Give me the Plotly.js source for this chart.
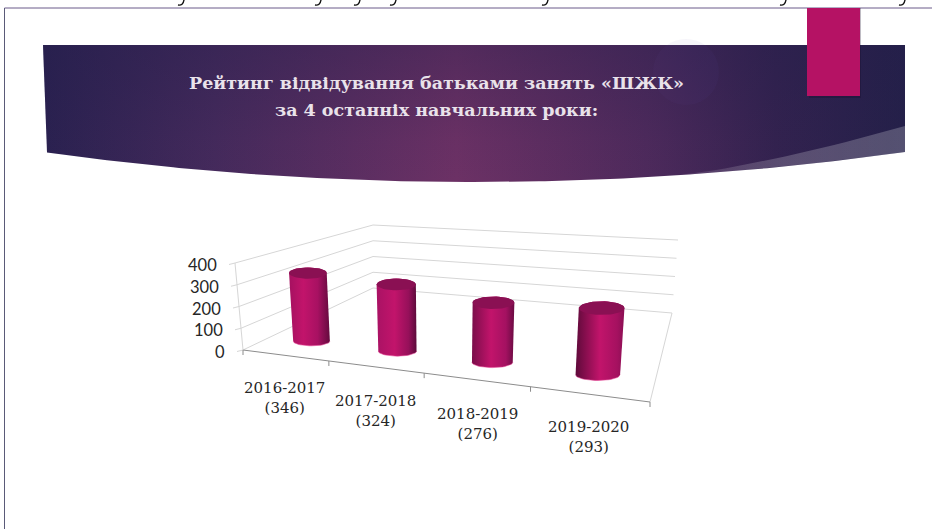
<!DOCTYPE html>
<html>
<head>
<meta charset="utf-8">
<script src="https://cdn.plot.ly/plotly-3.0.1.min.js"></script>
<style>html,body{margin:0;padding:0;background:#fff;overflow:hidden}#c{width:932px;height:529px}</style>
</head>
<body>
<div id="c"></div>
<script>
// ---- data ----
var categories = ['2016-2017', '2017-2018', '2018-2019', '2019-2020'];
var values = [346, 324, 276, 293];
var valueTicks = [0, 100, 200, 300, 400];
var titleLines = ['Рейтинг відвідування батьками занять «ШЖК»', 'за 4 останніх навчальних роки:'];

// ---- styles ----
var barShades = [
  [[0,'#a51160'],[0.35,'#c2146b'],[0.7,'#a81162'],[1,'#640a3e']],
  [[0,'#a91264'],[0.45,'#c2146b'],[0.8,'#96105a'],[1,'#5c0a3a']],
  [[0,'#7a0d4a'],[0.45,'#c2146b'],[0.8,'#a41161'],[1,'#6a0b42']],
  [[0,'#5e0a3a'],[0.5,'#c2146b'],[0.85,'#a51160'],[1,'#8a0f53']]
];
var barTop = '#8a1053', barRim = 'rgba(232,70,150,0.55)';
var gridColor = '#d6d6d6', axisColor = '#8c8c8c';
var barRadius = [0.056, 0.053, 0.051, 0.05];

// ---- projection of the chart box (category position u, depth v, value z) ----
var zMax = 400;
var floorQuad = [[243,350],[650,402],[672,313],[373,288]];
var topQuad   = [[235,263],[658,295],[678,240],[373,225]];
function homography(q){
  var x0=q[0][0],y0=q[0][1],x1=q[1][0],y1=q[1][1],x2=q[2][0],y2=q[2][1],x3=q[3][0],y3=q[3][1];
  var dx1=x1-x2,dx2=x3-x2,sx=x0-x1+x2-x3,dy1=y1-y2,dy2=y3-y2,sy=y0-y1+y2-y3;
  var d=dx1*dy2-dx2*dy1, g=(sx*dy2-dx2*sy)/d, h=(dx1*sy-sx*dy1)/d;
  var a=x1-x0+g*x1,b=x3-x0+h*x3,e=y1-y0+g*y1,f=y3-y0+h*y3;
  return function(u,v){var w=g*u+h*v+1;return [(a*u+b*v+x0)/w,(e*u+f*v+y0)/w];};
}
var H0=homography(floorQuad), H1=homography(topQuad);
function P(u,v,z){var A=H0(u,v),B=H1(u,v),t=z/zMax;return [A[0]+(B[0]-A[0])*t,A[1]+(B[1]-A[1])*t];}

var traces=[];
function poly(pts,o){
  var t={type:'scatter',mode:'lines',x:pts.map(function(p){return p[0];}),y:pts.map(function(p){return p[1];}),
    hoverinfo:'skip',showlegend:false,line:{width:0}};
  for(var k in o)t[k]=o[k];
  traces.push(t);
}
function seg(a,b,color){poly([a,b],{line:{width:1,color:color}});}

// ---- banner ----
function bannerEdge(x){var t=(x-43)/(905-43);return 152+4*30*t*(1-t);}
var bannerPts=[[43,45],[905,45]];
for(var x=905;x>=43;x-=6)bannerPts.push([x,bannerEdge(x)]);
poly(bannerPts,{fill:'toself',fillgradient:{type:'horizontal',start:43,stop:905,
  colorscale:[[0,'#2a2150'],[0.2,'#452a5c'],[0.48,'#6c3165'],[0.7,'#4e2a5c'],[0.85,'#33224f'],[1,'#242049']]}});
poly(bannerPts,{fill:'toself',fillgradient:{type:'vertical',start:45,stop:182,
  colorscale:[[0,'rgba(36,30,75,0.35)'],[0.7,'rgba(36,30,75,0.05)'],[1,'rgba(36,30,75,0)']]}});
// swoosh
var swoosh=[];
for(var s=0;s<=20;s++){var xs=905-s*12;var k=s/20;swoosh.push([xs,126+(bannerEdge(665)-126)*(1-Math.pow(1-k,1.35))]);}
for(var x2=665;x2<=905;x2+=8)swoosh.push([x2,bannerEdge(x2)]);
poly(swoosh,{fill:'toself',fillgradient:{type:'horizontal',start:665,stop:905,
  colorscale:[[0,'rgba(255,255,255,0.08)'],[0.5,'rgba(255,255,255,0.2)'],[1,'rgba(255,255,255,0.22)']]}});
// faint disc
var disc=[];for(var a=0;a<=40;a++){disc.push([686+33*Math.cos(a*Math.PI/20),72+33*Math.sin(a*Math.PI/20)]);}
poly(disc,{fill:'toself',fillcolor:'rgba(110,80,170,0.06)'});

// ---- walls: value gridlines ----
valueTicks.forEach(function(z){
  seg(P(0,1,z),P(1,1,z),gridColor);
  seg(P(0,0,z),P(0,1,z),gridColor);
});
// floor right edge
seg(P(1,0,0),P(1,1,0),gridColor);
// axes
seg(P(0,0,0),P(1,0,0),axisColor);
seg(P(0,0,0),P(0,0,zMax),gridColor);
valueTicks.forEach(function(z){var p=P(0,0,z);seg(p,[p[0]-6,p[1]+1.5],gridColor);});
for(var i=0;i<=categories.length;i++){var p=P(i/categories.length,0,0);seg(p,[p[0],p[1]+5],axisColor);}

// ---- cylinders: each end is an upright ellipse centred on the projected point ----
var tiltTop=0.3, tiltBase=0.26, depth=0.17, heightScale=0.94, N=24;
function endEllipse(u,ru,z,tilt){
  var c=P(u,depth,z), l=P(u-ru,depth,z), r=P(u+ru,depth,z), rx=(r[0]-l[0])/2;
  return function(th){return [c[0]-rx*Math.cos(th),c[1]+rx*tilt*Math.sin(th)];};
}
values.forEach(function(val,i){
  var u=(i+0.5)/categories.length, h=val*heightScale, ru=barRadius[i], pts=[], capPts=[], rim=[];
  var base=endEllipse(u,ru,0,tiltBase), top=endEllipse(u,ru,h,tiltTop);
  for(var j=0;j<=N;j++){pts.push(base(Math.PI*j/N));rim.push(base(Math.PI*j/N));}
  for(var j2=0;j2<=N;j2++)pts.push(top(Math.PI+Math.PI*j2/N));
  pts.push(pts[0]);
  for(var j3=0;j3<=2*N;j3++)capPts.push(top(Math.PI*j3/N));
  var xs=pts.map(function(p){return p[0];});
  poly(pts,{fill:'toself',name:categories[i],
    fillgradient:{type:'horizontal',start:Math.min.apply(null,xs),stop:Math.max.apply(null,xs),colorscale:barShades[i]}});
  poly(capPts,{fill:'toself',fillcolor:barTop});
  poly(rim,{line:{width:1,color:barRim}});
});

// ---- text ----
var ann=[];
titleLines.forEach(function(t,i){
  ann.push({x:436,y:83+27*i,xref:'x',yref:'y',text:'<b>'+t+'</b>',showarrow:false,xanchor:'center',yanchor:'middle',
    font:{family:'"DejaVu Serif",serif',size:17.5,color:'#e9e2ea'}});
});
valueTicks.forEach(function(z){
  var p=P(0,0,z);
  ann.push({x:p[0]-16,y:p[1]+2,xref:'x',yref:'y',text:String(z),showarrow:false,xanchor:'right',yanchor:'middle',
    font:{family:'Lato,sans-serif',size:16.5,color:'#262626'}});
});
categories.forEach(function(c,i){
  var p=P((i+0.5)/categories.length,0,0);
  var lx=p[0]+[0,0,2,0][i], ly=p[1]+[43,44.5,44,42.5][i];
  ann.push({x:lx,y:ly,xref:'x',yref:'y',text:c+'<br>('+values[i]+')',showarrow:false,xanchor:'center',yanchor:'middle',
    font:{family:'"DejaVu Serif",serif',size:15,color:'#262626'}});
});

// ---- slide furniture ----
var hooks=[181,318,357,393,545,783,902];
var shapes=[
  {type:'line',x0:4.5,x1:932,y0:8,y1:8,line:{color:'#6b5b8a',width:1}},
  {type:'line',x0:4.5,x1:4.5,y0:8,y1:529,line:{color:'#5a5a78',width:1}},
  {type:'rect',x0:809,x1:861,y0:8,y1:98,fillcolor:'rgba(20,10,40,0.28)',line:{width:0}},
  {type:'rect',x0:807,x1:860,y0:8,y1:96,fillcolor:'#b51264',line:{width:0}}
];
hooks.forEach(function(x){
  shapes.push({type:'path',path:'M '+(x+3)+' 0 Q '+(x+2)+' 6 '+(x-3)+' 5',line:{color:'#111',width:1.4}});
});

Plotly.newPlot('c',traces,{
  width:932,height:529,margin:{l:0,r:0,t:0,b:0},
  paper_bgcolor:'#fff',plot_bgcolor:'#fff',showlegend:false,
  xaxis:{range:[0,932],visible:false,fixedrange:true},
  yaxis:{range:[529,0],visible:false,fixedrange:true},
  annotations:ann,shapes:shapes
},{displayModeBar:false,staticPlot:true});
</script>
</body>
</html>
